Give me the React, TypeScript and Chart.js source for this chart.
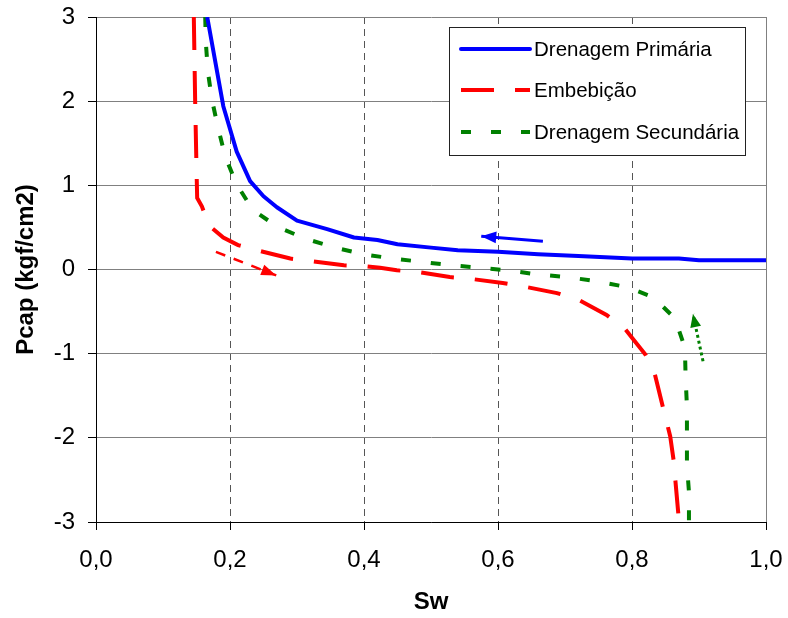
import React, { useEffect, useRef } from 'react';
import { Chart, registerables } from 'chart.js';

Chart.register(...registerables);

// ---- Data ----
const seriesNames = ['Drenagem Primária', 'Embebição', 'Drenagem Secundária'];

const xTickValues = [0, 0.2, 0.4, 0.6, 0.8, 1.0];
const xTickLabels = ['0,0', '0,2', '0,4', '0,6', '0,8', '1,0'];
const yTickValues = [-3, -2, -1, 0, 1, 2, 3];
const yTickLabels = ['-3', '-2', '-1', '0', '1', '2', '3'];

const primariaSw = [0.166, 0.19, 0.21, 0.23, 0.25, 0.27, 0.30, 0.345, 0.385, 0.42, 0.45, 0.50, 0.54, 0.60, 0.66, 0.72, 0.80, 0.87, 0.90, 1.0];
const primariaPcap = [3.0, 1.94, 1.40, 1.05, 0.87, 0.74, 0.58, 0.48, 0.38, 0.35, 0.30, 0.26, 0.23, 0.21, 0.18, 0.16, 0.13, 0.13, 0.11, 0.11];

const embebicaoSw = [0.146, 0.148, 0.150, 0.151, 0.158, 0.169, 0.19, 0.212, 0.245, 0.29, 0.32, 0.37, 0.40, 0.424, 0.449, 0.48, 0.528, 0.558, 0.607, 0.637, 0.688, 0.72, 0.762, 0.79, 0.80, 0.82, 0.834, 0.846, 0.857, 0.862, 0.869, 0.870];
const embebicaoPcap = [3.0, 2.0, 1.2, 0.85, 0.75, 0.52, 0.38, 0.29, 0.22, 0.13, 0.10, 0.05, 0.04, 0.02, -0.01, -0.03, -0.09, -0.11, -0.16, -0.20, -0.28, -0.36, -0.54, -0.71, -0.81, -1.01, -1.24, -1.63, -1.98, -2.26, -2.89, -3.0];

const secundariaSw = [0.163, 0.164, 0.167, 0.173, 0.182, 0.193, 0.21, 0.234, 0.272, 0.315, 0.357, 0.40, 0.443, 0.487, 0.531, 0.573, 0.615, 0.66, 0.703, 0.748, 0.793, 0.832, 0.864, 0.879, 0.88, 0.882, 0.882, 0.882, 0.885, 0.885];
const secundariaPcap = [3.0, 2.69, 2.35, 2.02, 1.69, 1.34, 1.01, 0.71, 0.50, 0.36, 0.26, 0.18, 0.13, 0.09, 0.05, 0.02, -0.01, -0.06, -0.09, -0.14, -0.21, -0.33, -0.58, -0.93, -1.28, -1.63, -1.96, -2.32, -2.64, -3.0];

// Direction arrows (tail -> tip)
const arrowBlueSw = [0.667, 0.575];
const arrowBluePcap = [0.336, 0.396];
const arrowRedSw = [0.179, 0.269];
const arrowRedPcap = [0.21, -0.07];
const arrowGreenSw = [0.906, 0.891];
const arrowGreenPcap = [-1.09, -0.53];

const BLUE = '#0000FF';
const RED = '#FF0000';
const GREEN = '#008000';

const toPoints = (xs: number[], ys: number[]) => xs.map((x, i) => ({ x, y: ys[i] }));

const arrowPlugin = {
  id: 'arrowHeads',
  afterDatasetsDraw(chart: any) {
    const ctx = chart.ctx;
    chart.data.datasets.forEach((ds: any, i: number) => {
      if (!ds.arrowHead) return;
      const meta = chart.getDatasetMeta(i);
      const pts = meta.data;
      if (pts.length < 2) return;
      const a = pts[pts.length - 2];
      const b = pts[pts.length - 1];
      const ang = Math.atan2(b.y - a.y, b.x - a.x);
      const L = ds.arrowHead.length;
      const W = ds.arrowHead.width;
      ctx.save();
      ctx.fillStyle = ds.borderColor;
      ctx.beginPath();
      ctx.moveTo(b.x, b.y);
      ctx.lineTo(b.x - L * Math.cos(ang) + (W / 2) * Math.sin(ang), b.y - L * Math.sin(ang) - (W / 2) * Math.cos(ang));
      ctx.lineTo(b.x - L * Math.cos(ang) - (W / 2) * Math.sin(ang), b.y - L * Math.sin(ang) + (W / 2) * Math.cos(ang));
      ctx.closePath();
      ctx.fill();
      ctx.restore();
    });
  },
};

const framePlugin = {
  id: 'frameRight',
  beforeDatasetsDraw(chart: any) {
    const { ctx, chartArea } = chart;
    ctx.save();
    ctx.strokeStyle = '#808080';
    ctx.lineWidth = 1;
    ctx.beginPath();
    const x = Math.round(chartArea.right) + 0.5;
    ctx.moveTo(x, chartArea.top);
    ctx.lineTo(x, chartArea.bottom);
    ctx.stroke();
    ctx.restore();
  },
};

const legendPlugin = {
  id: 'boxLegend',
  afterDraw(chart: any) {
    const ctx = chart.ctx;
    const box = { left: 449.5, top: 27.5, width: 296, height: 128 };
    const rows = [49, 90, 132];
    ctx.save();
    ctx.fillStyle = '#FFFFFF';
    ctx.fillRect(box.left, box.top, box.width, box.height);
    ctx.strokeStyle = '#222';
    ctx.lineWidth = 1;
    ctx.strokeRect(box.left, box.top, box.width, box.height);
    for (let i = 0; i < 3; i++) {
      const ds = chart.data.datasets[i];
      ctx.save();
      ctx.strokeStyle = ds.borderColor;
      ctx.lineWidth = ds.borderWidth;
      ctx.setLineDash(ds.borderDash || []);
      ctx.lineCap = i === 0 ? 'round' : 'butt';
      ctx.beginPath();
      ctx.moveTo(461, rows[i]);
      ctx.lineTo(530, rows[i]);
      ctx.stroke();
      ctx.restore();
      ctx.fillStyle = '#000';
      ctx.font = "20.5px 'Liberation Sans', Arial, sans-serif";
      ctx.textBaseline = 'middle';
      ctx.textAlign = 'left';
      ctx.fillText(seriesNames[i], 534, rows[i] + 1);
    }
    ctx.restore();
  },
};

export default function App() {
  const ref = useRef<HTMLCanvasElement | null>(null);

  useEffect(() => {
    if (!ref.current) return;
    Chart.defaults.font.family = "'Liberation Sans', Arial, sans-serif";
    Chart.defaults.color = '#000';
    const chart = new Chart(ref.current, {
      type: 'scatter',
      data: {
        datasets: [
          {
            label: seriesNames[0],
            data: toPoints(primariaSw, primariaPcap),
            borderColor: BLUE,
            backgroundColor: BLUE,
            borderWidth: 4,
            showLine: true,
            pointRadius: 0,
            borderJoinStyle: 'round',
          },
          {
            label: seriesNames[1],
            data: toPoints(embebicaoSw, embebicaoPcap),
            borderColor: RED,
            backgroundColor: RED,
            borderWidth: 4,
            borderDash: [33, 21],
            showLine: true,
            pointRadius: 0,
          },
          {
            label: seriesNames[2],
            data: toPoints(secundariaSw, secundariaPcap),
            borderColor: GREEN,
            backgroundColor: GREEN,
            borderWidth: 4,
            borderDash: [10, 20],
            showLine: true,
            pointRadius: 0,
          },
          {
            label: 'arrow-blue',
            data: toPoints(arrowBlueSw, arrowBluePcap),
            borderColor: BLUE,
            borderWidth: 3,
            showLine: true,
            pointRadius: 0,
            arrowHead: { length: 15, width: 12 },
          } as any,
          {
            label: 'arrow-red',
            data: toPoints(arrowRedSw, arrowRedPcap),
            borderColor: RED,
            borderWidth: 2.5,
            borderDash: [10, 9],
            showLine: true,
            pointRadius: 0,
            arrowHead: { length: 15, width: 11 },
          } as any,
          {
            label: 'arrow-green',
            data: toPoints(arrowGreenSw, arrowGreenPcap),
            borderColor: GREEN,
            borderWidth: 3,
            borderDash: [3, 3],
            showLine: true,
            pointRadius: 0,
            arrowHead: { length: 13, width: 11 },
          } as any,
        ],
      },
      options: {
        animation: false,
        responsive: false,
        devicePixelRatio: 1,
        layout: { padding: { top: 17, right: 22, left: 0, bottom: 0 } },
        plugins: {
          legend: { display: false },
          tooltip: { enabled: false },
        },
        scales: {
          x: {
            type: 'linear',
            min: 0,
            max: 1,
            afterBuildTicks: (scale: any) => {
              scale.ticks = xTickValues.map((v) => ({ value: v }));
            },
            afterFit: (scale: any) => {
              scale.height = 96;
              scale.paddingLeft = 0;
              scale.paddingRight = 0;
            },
            ticks: {
              font: { size: 24 },
              color: '#000',
              padding: 16,
              maxRotation: 0,
              callback: (_v: any, i: number) => xTickLabels[i],
            },
            grid: {
              color: (c: any) =>
                c.tick && (c.tick.value === 0 || c.tick.value === 1) ? 'rgba(0,0,0,0)' : '#555555',
              lineWidth: 1,
              drawTicks: true,
              tickLength: 8,
              tickColor: '#000',
              tickWidth: 1,
              tickBorderDash: [],
            },
            border: { display: true, color: '#000', width: 1, dash: [7, 5] },
            title: {
              display: true,
              text: 'Sw',
              font: { size: 24, weight: 'bold' },
              color: '#000',
              padding: { top: 0, bottom: 1 },
            },
          },
          y: {
            type: 'linear',
            min: -3,
            max: 3,
            afterBuildTicks: (scale: any) => {
              scale.ticks = yTickValues.map((v) => ({ value: v }));
            },
            afterFit: (scale: any) => {
              scale.width = 96;
              scale.paddingTop = 0;
              scale.paddingBottom = 0;
            },
            ticks: {
              font: { size: 24 },
              color: '#000',
              padding: 13,
              callback: (_v: any, i: number) => yTickLabels[i],
            },
            grid: {
              color: '#808080',
              lineWidth: 1,
              drawTicks: true,
              tickLength: 8,
              tickColor: '#000',
              tickWidth: 1,
              tickBorderDash: [],
            },
            border: { display: true, color: '#000', width: 1 },
            title: {
              display: true,
              text: 'Pcap (kgf/cm2)',
              font: { size: 24, weight: 'bold' },
              color: '#000',
              padding: { top: 12, bottom: 0 },
            },
          },
        },
      },
      plugins: [framePlugin, arrowPlugin, legendPlugin],
    } as any);
    return () => chart.destroy();
  }, []);

  return (
    <div style={{ position: 'absolute', left: 0, top: 0, width: 788, height: 618, background: '#fff' }}>
      <canvas ref={ref} width={788} height={618} />
    </div>
  );
}
